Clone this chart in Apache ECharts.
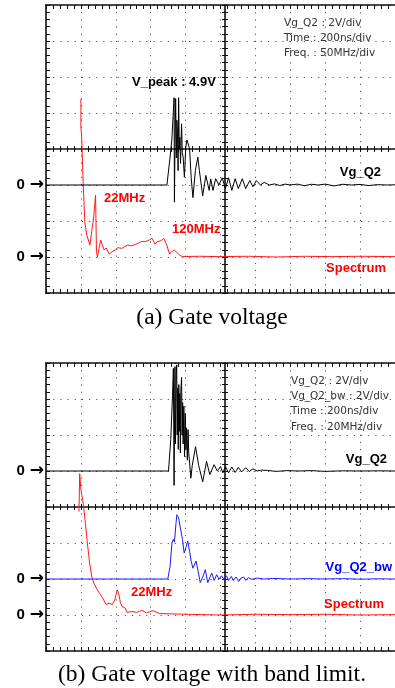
<!DOCTYPE html>
<html><head><meta charset="utf-8">
<script src="https://cdn.jsdelivr.net/npm/echarts@6/dist/echarts.min.js"></script>
<style>html,body{margin:0;padding:0;background:#fff;}#c{width:395px;height:688px;}</style>
</head><body><div id="c"></div>
<script>
// ---------- data (a) ----------
const topVgTime = [0,693,711,721,734,736,739,743,747,750,753,757,760,764,767,771,777,781,786,793,801,808,817,823,832,842,856,870,879,898,916,935,944,957,972,991,1010,1028,1046,1065,1084,1102,1125,1144,1168,1186,1205,1229,1251,1279,1310,1340,1370,1400,1440,1480,1520,1560,1600,1650,1700,1750,1800,1850,1900,1950,2000];
const topVg = [0,0,1.55,2.5,4.85,-0.95,2.0,4.8,1.5,3.6,3.0,0.8,4.85,2.0,2.65,1.2,3.4,1.8,1.55,0.43,2.1,2.5,2.6,2.0,0.4,-0.7,0.8,1.55,0.8,-0.6,0.53,-0.3,0.34,-0.3,0.35,0,0.4,-0.2,0.4,-0.3,0.35,-0.2,0.35,-0.2,0.25,-0.1,0.25,0,0.15,0,0.06,-0.03,0.05,0,0.05,-0.04,0.04,0,0.05,-0.05,0.04,0,0.03,-0.03,0.02,0,0.01];
const topFreq = [0,0,1.0,3.2,5.6,8.4,13.0,15.4,18.2,21.0,22.3,23.7,26.1,28.4,30.7,33.5,36.3,40.5,44.7,48.9,53.1,58.7,62.8,67.0,72.6,78.2,82.4,86.6,92.2,97.8,101.9,106.1,110.3,114.5,118.7,122.9,127.1,129.9,134.1,136.9,141.1,145.2,170,200,240,280,320,360,400,450];
const topSpec = [4.39,3.61,3.39,2.09,0.98,0.61,0.33,0.70,1.08,1.72,0.15,0.0,0.25,0.47,0.33,0.19,0.25,0.08,0.15,0.19,0.26,0.24,0.29,0.33,0.31,0.35,0.38,0.43,0.43,0.47,0.52,0.36,0.43,0.45,0.52,0.33,0.08,0.15,0.19,0.15,0.06,0.01,0.02,0.01,0.02,0.0,0.02,0.01,0.02,0.01];
// ---------- data (b) ----------
const botVgTime = [0,702,715,725,730,734,739,742,746,749,752,755,758,761,764,767,770,773,777,780,783,786,790,794,798,802,805,810,814,818,823,830,838,857,875,898,920,939,963,982,1000,1014,1028,1046,1065,1084,1102,1122,1144,1165,1186,1210,1236,1270,1320,1380,1450,1520,1600,1700,1800,1900,2000];
const botVg = [0,0,1.75,4.2,5.7,-0.8,5.8,1.5,5.3,5.9,2.0,4.6,1.2,4.8,2.2,4.3,1.0,4.5,5.2,2.0,3.8,1.5,3.6,0.8,3.2,1.2,2.4,0.6,2.3,1.0,0.45,-0.4,0.3,1.35,0.3,-0.6,0.53,-0.2,0.35,0,0.25,-0.1,0.25,-0.1,0.22,-0.08,0.2,-0.05,0.18,-0.03,0.12,0,0.05,0.03,-0.02,0.02,0,0.02,-0.02,0.01,0,0.01,0];
const bwTime = [0,698,711,722,730,736,745,750,760,767,782,792,801,812,823,832,842,851,860,872,884,898,913,927,940,950,964,978,991,1006,1021,1034,1046,1062,1074,1089,1105,1117,1133,1145,1160,1180,1210,1250,1300,1400,1500,1600,1700,1800,1900,2000];
const bwVg = [0,0,0.7,2.0,2.2,2.05,3.1,3.57,3.4,3.0,2.2,1.44,1.72,2.1,1.55,0.98,0.6,0.7,1.0,0.42,-0.2,0.1,0.52,-0.2,0.1,0.33,-0.08,0.24,0,0.18,-0.04,0.18,-0.08,0.14,-0.08,0.11,-0.13,0.05,0.11,-0.08,0.07,-0.02,0.05,0,0.03,0,0.02,0,0.02,-0.01,0.01,0];
const botFreq = [-1.1,-0.7,0,1.3,2.6,3.7,5.0,6.3,7.4,8.8,10.6,12.5,14.4,16.2,18.0,19.4,20.8,21.8,22.7,23.6,25.5,26.4,29.2,32.0,34.8,37.6,41.3,45.1,60,80,100,120,140,160,180];
const botSpec = [2.87,3.93,3.48,3.11,2.55,2.0,1.44,1.05,0.89,0.75,0.61,0.47,0.29,0.33,0.29,0.42,0.7,0.56,0.33,0.24,0.19,0.07,0.10,0.07,0.13,0.06,0.12,0.04,0.02,0.0,0.02,0.01,0.02,0.0,0.01];

const zip = (a, b) => a.map((v, i) => [v, b[i]]);

const chart = echarts.init(document.getElementById('c'), null, {renderer: 'canvas'});
const xAxis = [], yAxis = [];
const addX = o => (xAxis.push(o), xAxis.length - 1);
const addY = o => (yAxis.push(o), yAxis.length - 1);
const dot = {color: '#555', width: 1, type: [1.2, 5.96]};
function frameAxis(dim, g, pos, offset, inside, showLine, split, len) {
  return {type: 'value', gridIndex: g, min: dim === 'x' ? 0 : -4, max: dim === 'x' ? 10 : 4, interval: 1,
    position: pos, offset: offset,
    axisLine: {show: showLine, onZero: false, lineStyle: {color: '#111', width: 1.6}},
    axisTick: {show: true, inside: inside, length: len, lineStyle: {color: '#111', width: 1}},
    minorTick: {show: true, splitNumber: 5, length: len, lineStyle: {color: '#111', width: 1}},
    axisLabel: {show: false}, splitLine: {show: split, lineStyle: dot}, minorSplitLine: {show: false}};
}
function labelAxis(g, min, max, interval) {
  return {type: 'value', gridIndex: g, min: min, max: max, interval: interval, position: 'left',
    axisLine: {show: false, onZero: false}, axisTick: {show: false}, splitLine: {show: false},
    axisLabel: {show: true, margin: 2, formatter: v => v === 0 ? '{z|0}{s|}{a|→}' : '',
      rich: {z: {fontFamily: 'Liberation Sans', fontWeight: 'bold', fontSize: 15, color: '#000'},
             s: {width: 5},
             a: {fontFamily: 'DejaVu Sans', fontWeight: 'bold', fontSize: 17, color: '#000'}}}};
}
const specRange = [[-50, 450], [-20, 180]];
const idx = [];
for (let g = 0; g < 2; g++) {
  addX(frameAxis('x', g, 'bottom', 0, true, true, true, 4));
  addX(frameAxis('x', g, 'top', 0, true, true, false, 4));
  addX(frameAxis('x', g, 'top', -144, true, true, false, 3));
  addX(frameAxis('x', g, 'top', -144, false, false, false, 3));
  const tX = addX({type: 'value', gridIndex: g, min: 0, max: 2000, show: false});
  const fX = addX({type: 'value', gridIndex: g, min: specRange[g][0], max: specRange[g][1], show: false});
  addY(frameAxis('y', g, 'left', 0, true, true, true, 4));
  addY(frameAxis('y', g, 'left', -179, true, true, false, 3));
  addY(frameAxis('y', g, 'left', -179, false, false, false, 3));
  const vY = addY(g === 0 ? labelAxis(0, -6, 10, 2) : labelAxis(1, -10, 6, 2));
  const sY = addY(labelAxis(g, -1, 7, 1));
  const bY = g === 1 ? addY(labelAxis(1, -4, 12, 2)) : null;
  idx.push({tX, fX, vY, sY, bY});
}
const line = (name, xi, yi, data, color) => ({type: 'line', name, xAxisIndex: xi, yAxisIndex: yi, data,
  showSymbol: false, symbol: 'none', silent: true, animation: false, z: 3,
  lineStyle: {color: color, width: 1}});
const RED = '#ff1a1a', BLUE = '#1a1aff', BLK = '#000';
const series = [
  line('Spectrum', idx[0].fX, idx[0].sY, zip(topFreq, topSpec), RED),
  line('Vg_Q2', idx[0].tX, idx[0].vY, zip(topVgTime, topVg), BLK),
  line('Spectrum', idx[1].fX, idx[1].sY, zip(botFreq, botSpec), RED),
  line('Vg_Q2_bw', idx[1].tX, idx[1].bY, zip(bwTime, bwVg), BLUE),
  line('Vg_Q2', idx[1].tX, idx[1].vY, zip(botVgTime, botVg), BLK)
];
function txt(x, y, text, font, fill, align) {
  align = align || 'left';
  return {type: 'text', x: x, y: y, silent: true, z: 100,
    style: {text: text, font: font, fill: fill, align: align, verticalAlign: 'middle', textAlign: align, textVerticalAlign: 'middle'}};
}
const INFO = '10.5px "DejaVu Sans"', BOLD = 'bold 13px "Liberation Sans"', CAP = '23.5px "Liberation Serif"';
const graphic = [
  txt(284, 23, 'Vg_Q2 : 2V/div', INFO, '#333'),
  txt(284, 38, 'Time : 200ns/div', INFO, '#333'),
  txt(284, 53, 'Freq. : 50MHz/div', INFO, '#333'),
  txt(132, 82, 'V_peak : 4.9V', BOLD, '#000'),
  txt(381, 172, 'Vg_Q2', BOLD, '#000', 'right'),
  txt(104, 198, '22MHz', BOLD, '#ff0000'),
  txt(172, 229, '120MHz', BOLD, '#ff0000'),
  txt(386, 268, 'Spectrum', BOLD, '#ff0000', 'right'),
  txt(212, 318, '(a) Gate voltage', CAP, '#000', 'center'),
  txt(291, 381, 'Vg_Q2 : 2V/div', INFO, '#333'),
  txt(291, 396, 'Vg_Q2_bw : 2V/div', INFO, '#333'),
  txt(291, 411.5, 'Time : 200ns/div', INFO, '#333'),
  txt(291, 427, 'Freq. : 20MHz/div', INFO, '#333'),
  txt(387, 459, 'Vg_Q2', BOLD, '#000', 'right'),
  txt(392, 567, 'Vg_Q2_bw', BOLD, '#0000ff', 'right'),
  txt(131, 592, '22MHz', BOLD, '#ff0000'),
  txt(384, 604, 'Spectrum', BOLD, '#ff0000', 'right'),
  txt(212, 675, '(b) Gate voltage with band limit.', CAP, '#000', 'center')
];
chart.setOption({
  animation: false,
  backgroundColor: '#fff',
  grid: [{left: 46, top: 5, width: 358, height: 288}, {left: 46, top: 363, width: 358, height: 288}],
  xAxis: xAxis, yAxis: yAxis, series: series, graphic: graphic
});
</script></body></html>
